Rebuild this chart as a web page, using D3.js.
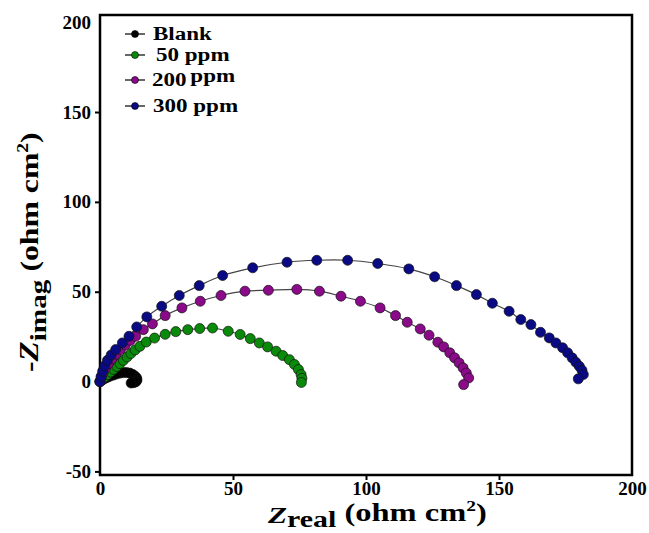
<!DOCTYPE html>
<html>
<head>
<meta charset="utf-8">
<script src="https://cdn.jsdelivr.net/npm/d3@7"></script>
<style>
  body { margin: 0; background: #fff; }
  svg { display: block; }
</style>
</head>
<body>
<script>
// Nyquist data: [Zreal, -Zimag]
var blankData = [[0,0],[0.8,0.8],[1.7,1.6],[2.7,2.3],[3.8,3],[5,3.6],[6.2,4.2],[7.5,4.7],[8.8,5],[10,5],
    [11.2,4.7],[12.3,4],[13.2,3],[13.8,1.9],[13.9,0.8],[13.5,-0.1],[12.7,-0.6],[11.7,-0.8]];
var ppm50Data = [[0,0],[0.8,1.2],[1.8,2.5],[2.9,3.9],[4,5.3],[5.1,6.8],[6.3,8.4],[7.5,10],[8.8,11.8],[10.2,13.7],
    [11.6,15.6],[13.2,17.6],[15,19.6],[17.4,22],[20.5,24.2],[24.5,26.3],[28.5,27.8],[33,28.9],[37.5,29.5],[42.3,29.8],
    [48.2,28],[52.7,26.2],[56.5,23.9],[59.9,21.5],[63,19.3],[66.2,16.9],[68.7,14.5],[71.2,12.2],[73.1,9.5],
    [74.6,6.7],[75.6,3.9],[75.9,1.8],[75.7,-0.5]];
var ppm200Data = [[0,0],[0.5,2.5],[1.2,5],[2.1,7.5],[3.2,10],[4.5,12.6],[6,15.2],[7.7,17.8],[9.5,20.4],[11.4,22.9],
    [13.4,25.2],[16.3,28.9],[19.7,32.1],[24.5,36.7],[30.8,41],[37.7,44.7],[45.5,47.9],[54.5,50.3],[63.3,50.8],
    [74,51.3],[82.5,50.3],[90.6,47.5],[97.9,44.7],[105.3,41],[111.1,36.7],[115.5,33],[120.4,29.3],[123.7,25.8],
    [127,21.9],[129.2,19.3],[131.5,16],[133.3,13.2],[135,10.4],[136.5,7.6],[137.7,4.8],[138.6,2],[136.7,-1.7]];
var ppm300Data = [[0,0],[0.4,2.8],[1,5.8],[1.8,8.8],[2.8,11.8],[4.2,14.8],[5.9,17.8],[8.4,21.5],[10.9,25.2],
    [13.8,30.4],[17.6,36],[23.2,41.9],[29.8,47.9],[37.3,53.4],[46.1,59],[57.4,63.3],[70.3,66.4],[81.5,67.5],
    [93.1,67.5],[104.4,65.7],[116.1,62.7],[125.8,58.3],[134,53.4],[141.5,48.4],[147.5,43.6],[153.8,39.1],
    [158.2,34.5],[162,31.7],[165.6,27.4],[168.9,24.3],[171.4,21.5],[173.9,18.8],[175.8,16],[177.5,13.2],
    [178.9,10.7],[180.2,8.5],[181.2,6.3],[181.7,3.9],[179.8,1.5]];

var seriesNames = ["Blank", "50 ppm", "200 ppm", "300 ppm"];
var seriesColors = ["#000000", "#0a8a0a", "#8a0a8a", "#0a0a85"];
var xTicks = [0, 50, 100, 150, 200];
var yTicks = [-50, 0, 50, 100, 150, 200];

var allSeries = [blankData, ppm50Data, ppm200Data, ppm300Data];

var width = 649, height = 533;
var svg = d3.select("body").append("svg")
    .attr("width", width)
    .attr("height", height);

var x = d3.scaleLinear().domain([0, 200]).range([100, 632]);
var y = d3.scaleLinear().domain([-52, 204]).range([475, 15]);

var serif = "'Liberation Serif', 'Times New Roman', serif";

// frame
svg.append("rect")
    .attr("x", x(0)).attr("y", y(204))
    .attr("width", x(200) - x(0)).attr("height", y(-52) - y(204))
    .attr("fill", "none").attr("stroke", "#000").attr("stroke-width", 2.5);

// axes
var plain = function(d) { return String(d); };
var xAxis = svg.append("g")
    .attr("transform", "translate(0," + y(-52) + ")")
    .call(d3.axisBottom(x).tickValues(xTicks).tickFormat(plain).tickSize(5).tickPadding(2));
var yAxis = svg.append("g")
    .attr("transform", "translate(" + x(0) + ",0)")
    .call(d3.axisLeft(y).tickValues(yTicks).tickFormat(plain).tickSize(5).tickPadding(4));

[xAxis, yAxis].forEach(function(a) {
    a.select(".domain").remove();
    a.selectAll(".tick line").attr("stroke", "#000").attr("stroke-width", 2);
    a.selectAll(".tick text")
        .attr("fill", "#000")
        .attr("font-family", serif)
        .attr("font-weight", "bold")
        .attr("font-size", "19px");
});
xAxis.selectAll(".tick").filter(function(d) { return d === 200 || d === 0; }).select("line").remove();
yAxis.selectAll(".tick").filter(function(d) { return d === 200; }).select("line").remove();

// curves and markers
var line = d3.line()
    .x(function(d) { return x(d[0]); })
    .y(function(d) { return y(d[1]); })
    .curve(d3.curveCatmullRom);

allSeries.forEach(function(data) {
    svg.append("path")
        .datum(data)
        .attr("d", line)
        .attr("fill", "none")
        .attr("stroke", "#444")
        .attr("stroke-width", 1.2);
});
allSeries.forEach(function(data, i) {
    svg.append("g").selectAll("circle")
        .data(data)
        .enter().append("circle")
        .attr("cx", function(d) { return x(d[0]); })
        .attr("cy", function(d) { return y(d[1]); })
        .attr("r", 5)
        .attr("fill", seriesColors[i])
        .attr("stroke", "#111")
        .attr("stroke-width", 0.7);
});

// legend
var legendY = [34, 55, 80, 106];
var legendX = [153, 156, 152, 153];
var legend = svg.append("g");
seriesNames.forEach(function(name, i) {
    var cx = 135;
    legend.append("line")
        .attr("x1", cx - 10).attr("x2", cx + 10)
        .attr("y1", legendY[i]).attr("y2", legendY[i])
        .attr("stroke", "#000").attr("stroke-width", 1.2);
    legend.append("circle")
        .attr("cx", cx).attr("cy", legendY[i]).attr("r", 3.5)
        .attr("fill", seriesColors[i]).attr("stroke", "#000").attr("stroke-width", 0.6);
    var t = legend.append("text")
        .attr("transform", "translate(" + legendX[i] + "," + (legendY[i] + 6) + ") scale(1.28,1)")
        .attr("font-family", serif)
        .attr("font-weight", "bold")
        .attr("font-size", "18px")
        .attr("fill", "#000");
    if (i === 2) {
        var parts = name.split(" ");
        t.append("tspan").text(parts[0]);
        t.append("tspan").attr("dx", 3).attr("dy", -4).text(parts[1]);
    } else {
        t.text(name);
    }
});

// x label
var xl = svg.append("text")
    .attr("transform", "translate(268,521) scale(1.3,1)")
    .attr("font-family", serif)
    .attr("font-weight", "bold")
    .attr("fill", "#000");
xl.append("tspan").attr("font-style", "italic").attr("font-size", "24px").attr("dy", 2).text("Z");
xl.append("tspan").attr("font-size", "23px").attr("dy", 4).text("real");
xl.append("tspan").attr("font-size", "25px").attr("dy", -6).text(" (ohm cm");
xl.append("tspan").attr("font-size", "15px").attr("dy", -10).text("2");
xl.append("tspan").attr("font-size", "25px").attr("dy", 10).text(")");

// y label
var yl = svg.append("text")
    .attr("transform", "translate(38,372) rotate(-90) scale(1.22,1)")
    .attr("font-family", serif)
    .attr("font-weight", "bold")
    .attr("fill", "#000");
yl.append("tspan").attr("font-size", "26px").text("-");
yl.append("tspan").attr("font-style", "italic").attr("font-size", "27px").text("Z");
yl.append("tspan").attr("font-size", "24px").attr("dy", 8).text("imag");
yl.append("tspan").attr("font-size", "26px").attr("dy", -8).text(" (ohm cm");
yl.append("tspan").attr("font-size", "16px").attr("dy", -10).text("2");
yl.append("tspan").attr("font-size", "26px").attr("dy", 10).text(")");
</script>
</body>
</html>
